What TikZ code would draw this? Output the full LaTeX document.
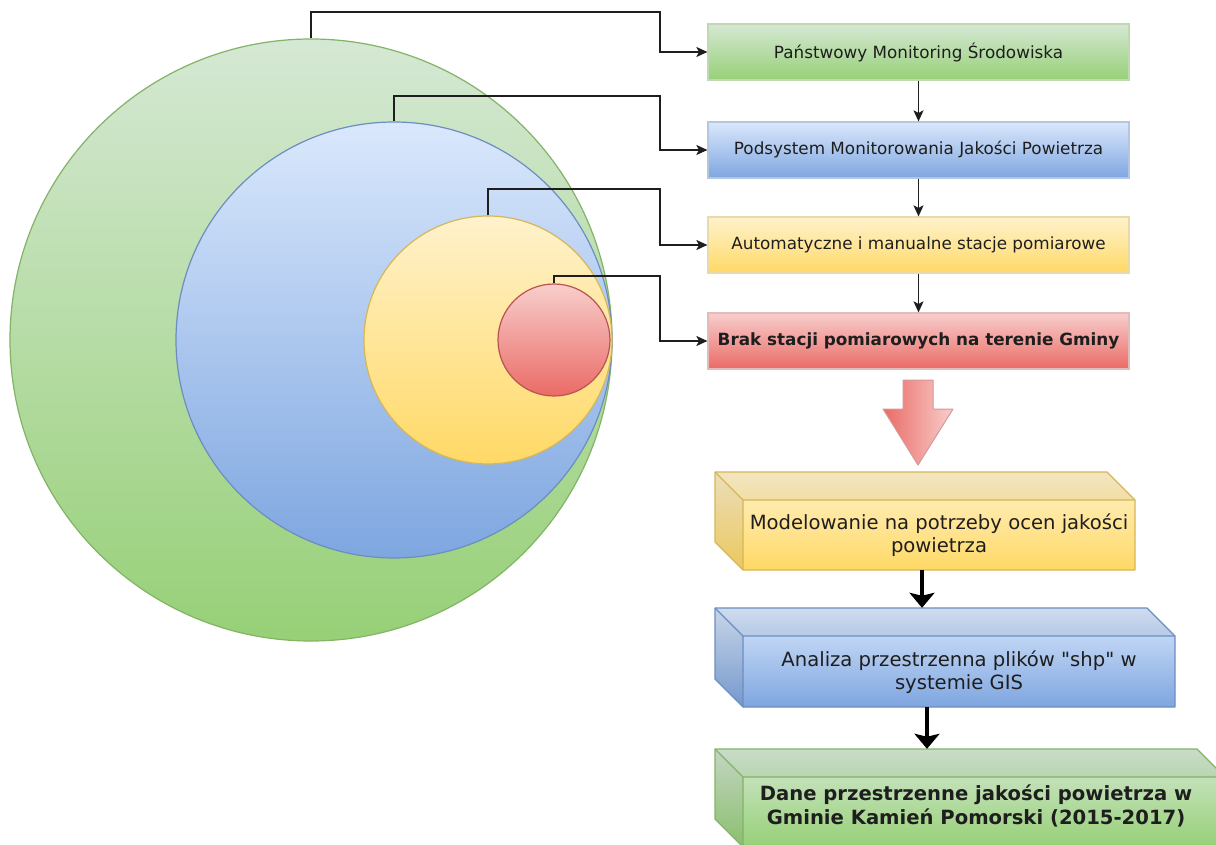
\documentclass[tikz,border=0pt]{standalone}
\usepackage{fontspec}
\setmainfont{DejaVu Sans}
\newfontfamily\qfont{DejaVu Sans}
\usetikzlibrary{arrows.meta,calc}
\definecolor{gTop}{HTML}{D5E8D4}
\definecolor{gBot}{HTML}{97D077}
\definecolor{gLine}{HTML}{82B366}
\definecolor{bTop}{HTML}{DAE8FC}
\definecolor{bBot}{HTML}{7EA6E0}
\definecolor{bLine}{HTML}{6C8EBF}
\definecolor{yTop}{HTML}{FFF2CC}
\definecolor{yBot}{HTML}{FFD966}
\definecolor{yLine}{HTML}{D6B656}
\definecolor{rTop}{HTML}{F8CECC}
\definecolor{rBot}{HTML}{EA6B66}
\definecolor{rLine}{HTML}{B85450}
\definecolor{txt}{HTML}{1E1E1E}
\newcommand{\drawcube}[7]{%
  \shade[top color=#5, bottom color=#6] (#1,#2) -- ({#3-28},#2) -- (#3,{#2+28}) -- (#3,#4) -- ({#1+28},#4) -- (#1,{#4-28}) -- cycle;
  \fill[black,opacity=0.05] (#1,#2) -- ({#3-28},#2) -- (#3,{#2+28}) -- ({#1+28},{#2+28}) -- cycle;
  \fill[black,opacity=0.08] (#1,#2) -- ({#1+28},{#2+28}) -- ({#1+28},#4) -- (#1,{#4-28}) -- cycle;
  \draw[#7, line width=1.4pt, line join=round] (#1,#2) -- ({#3-28},#2) -- (#3,{#2+28}) -- (#3,#4) -- ({#1+28},#4) -- (#1,{#4-28}) -- cycle;
  \draw[#7, line width=1.4pt] (#1,#2) -- ({#1+28},{#2+28}) -- (#3,{#2+28}) ({#1+28},{#2+28}) -- ({#1+28},#4);
}
\tikzset{
  ring/.style={circle, inner sep=0pt, line width=1.2pt},
  flatbox/.style={rectangle, inner sep=0pt, minimum width=421pt, minimum height=56pt,
    font=\fontsize{16.8}{20}\selectfont, text=txt, line width=1.2pt},
  conn/.style={draw=txt, line width=1.4pt, -{Stealth[length=11pt,width=10pt,inset=2.5pt]}},
  bigconn/.style={draw=black, line width=4.2pt, -{Stealth[length=15pt,width=25pt,inset=3pt]}},
  cubetext/.style={inner sep=0pt, align=center, text=txt, font=\fontsize{19.6}{23.5}\selectfont},
  cubehull/.style={inner sep=0pt}
}
\begin{document}
\begin{tikzpicture}[x=1pt,y=-1pt]
\useasboundingbox (0,0) rectangle (1216,845);
% circles
\node[ring, minimum size=602pt, top color=gTop, bottom color=gBot, draw=gLine] (gc) at (311,340) {};
\node[ring, minimum size=436pt, top color=bTop, bottom color=bBot, draw=bLine] (bc) at (394,340) {};
\node[ring, minimum size=248pt, top color=yTop, bottom color=yBot, draw=yLine] (yc) at (488,340) {};
\node[ring, minimum size=112pt, top color=rTop, bottom color=rBot, draw=rLine] (rc) at (554,340) {};
% boxes
\node[flatbox, top color=gTop, bottom color=gBot, draw=gLine!50] (b1) at (918.5,52) {Państwowy Monitoring Środowiska};
\node[flatbox, top color=bTop, bottom color=bBot, draw=bLine!50] (b2) at (918.5,150) {Podsystem Monitorowania Jakości Powietrza};
\node[flatbox, top color=yTop, bottom color=yBot, draw=yLine!50] (b3) at (918.5,245) {Automatyczne i manualne stacje pomiarowe};
\node[flatbox, top color=rTop, bottom color=rBot, draw=rLine!40, font=\fontsize{16.8}{20}\selectfont\bfseries] (b4) at (918.5,341) {Brak stacji pomiarowych na terenie Gminy};
% connector corners
\coordinate (k1) at (660,12);
\coordinate (k2) at (660,96);
\coordinate (k3) at (660,189);
\coordinate (k4) at (660,276);
\draw[conn] (gc.north) |- (k1) |- (b1.west);
\draw[conn] (bc.north) |- (k2) |- (b2.west);
\draw[conn] (yc.north) |- (k3) |- (b3.west);
\draw[conn] (rc.north) |- (k4) |- (b4.west);
\draw[conn] (b1.south) -- (b2.north);
\draw[conn] (b2.south) -- (b3.north);
\draw[conn] (b3.south) -- (b4.north);
% big arrow
\shadedraw[left color=rBot, right color=rTop, draw=rLine!60, line width=1pt, line join=round]
  (903,380) -- (933,380) -- (933,409) -- (953,409) -- (918,465) -- (883,409) -- (903,409) -- cycle;
% cubes
\drawcube{715}{472}{1135}{570}{yTop}{yBot}{yLine}
\drawcube{715}{608}{1175}{707}{bTop}{bBot}{bLine}
\begin{scope}
\clip (0,0) rectangle (1216,845);
\drawcube{715}{749}{1225}{847}{gTop}{gBot}{gLine}
\end{scope}
\node[cubehull, minimum width=420pt, minimum height=98pt] (c1) at (925,521) {};
\node[cubehull, minimum width=460pt, minimum height=99pt] (c2) at (945,657.5) {};
\node[cubehull, minimum width=510pt, minimum height=98pt] (c3) at (970,798) {};
\node[cubetext] (t1) at (939,535) {Modelowanie na potrzeby ocen jakości\\powietrza};
\node[cubetext] (t2) at (959,672) {Analiza przestrzenna plików {\qfont"}shp{\qfont"} w\\systemie GIS};
\node[cubetext, font=\fontsize{19.6}{23.5}\selectfont\bfseries] (t3) at (976,806) {Dane przestrzenne jakości powietrza w\\Gminie Kamień Pomorski (2015-2017)};
\draw[bigconn] ([xshift=-3pt]c1.south) -- ([xshift=-3pt]c1.south |- c2.north);
\draw[bigconn] ([xshift=-18pt]c2.south) -- ([xshift=-18pt]c2.south |- c3.north);
\end{tikzpicture}
\end{document}
